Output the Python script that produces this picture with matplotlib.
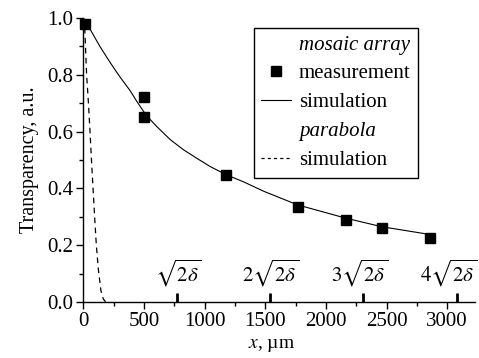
import numpy as np
import matplotlib
matplotlib.use('Agg')
import matplotlib.pyplot as plt
from matplotlib.lines import Line2D

plt.rcParams['font.family'] = ['Liberation Serif', 'DejaVu Serif']
plt.rcParams['mathtext.fontset'] = 'stix'

# measured points (x in um, transparency)
meas_x = [15, 500, 500, 1180, 1770, 2170, 2460, 2860]
meas_y = [0.98, 0.722, 0.652, 0.447, 0.333, 0.289, 0.262, 0.224]

# mosaic array simulation
sim_x = [0, 33, 83, 138, 193, 248, 303, 386, 440, 495, 550, 605, 716, 826, 936,
         1046, 1184, 1322, 1487, 1767, 2166, 2462, 2825]
sim_y = [1.0, 0.977, 0.940, 0.899, 0.862, 0.826, 0.792, 0.744, 0.707, 0.672, 0.643, 0.618, 0.572, 0.536, 0.506,
         0.477, 0.447, 0.423, 0.390, 0.342, 0.295, 0.265, 0.240]

# parabola simulation
par_x = [0, 10, 27, 42, 55, 67, 80, 93, 107, 125, 145, 165, 185]
par_y = [1.0, 0.98, 0.8, 0.7, 0.6, 0.5, 0.4, 0.3, 0.2, 0.11, 0.04, 0.01, 0.0]

# sqrt(2 delta) marks
root_x = [770, 1540, 2310, 3080]
root_label_x = [785, 1540, 2280, 3015]
root_labels = [r'$\sqrt{2\delta}$', r'$2\sqrt{2\delta}$', r'$3\sqrt{2\delta}$', r'$4\sqrt{2\delta}$']

fig = plt.figure(figsize=(4.79, 3.58), dpi=100)
ax = fig.add_axes([0.174, 0.1564, 0.8177, 0.7933])

ax.plot(sim_x, sim_y, color='black', linewidth=0.8)
ax.plot(par_x, par_y, color='black', linewidth=0.9, linestyle=(0, (4.5, 3.5)))
ax.plot(meas_x, meas_y, linestyle='none', marker='s', markersize=6.5,
        color='black', clip_on=False, zorder=5)

ax.vlines(root_x, 0, 0.032, color='black', linewidth=2)
for lx, lab in zip(root_label_x, root_labels):
    ax.text(lx, 0.072, lab, ha='center', va='baseline', fontsize=15)

ax.set_xlim(0, 3230)
ax.set_ylim(0, 1.0)
ax.set_xticks(np.arange(0, 3001, 500))
ax.set_xticks(np.arange(250, 3230, 500), minor=True)
ax.set_yticks(np.arange(0, 1.01, 0.2))
ax.set_yticks(np.arange(0.1, 1.0, 0.2), minor=True)
ax.yaxis.set_major_formatter(matplotlib.ticker.FormatStrFormatter('%.1f'))

for s in ['top', 'right']:
    ax.spines[s].set_visible(False)
ax.spines['left'].set_linewidth(1.0)
ax.spines['bottom'].set_linewidth(1.0)
ax.tick_params(which='major', direction='out', length=5, width=1, labelsize=15, pad=2)
ax.tick_params(which='minor', direction='out', length=3, width=1)

ax.set_xlabel(r'$x$, µm', fontsize=14)
ax.xaxis.set_label_coords(0.481, -0.122)
ax.set_ylabel('Transparency, a.u.', fontsize=14.5)
ax.yaxis.set_label_coords(-0.113, 0.5)

handles = [Line2D([], [], linestyle='none'),
           Line2D([], [], linestyle='none', marker='s', markersize=6.5, color='black'),
           Line2D([], [], color='black', linewidth=0.8),
           Line2D([], [], linestyle='none'),
           Line2D([], [], color='black', linewidth=0.9, linestyle=(0, (2.5, 2.5)))]
labels = ['mosaic array', 'measurement', 'simulation', 'parabola', 'simulation']
leg = ax.legend(handles, labels, loc='upper left', bbox_to_anchor=(0.436, 0.966),
                fontsize=15, frameon=True, fancybox=False, framealpha=1,
                edgecolor='black', handlelength=1.4, handletextpad=0.4,
                labelspacing=0.45, borderpad=0.35, borderaxespad=0)
leg.get_frame().set_linewidth(1.0)
leg.get_texts()[0].set_style('italic')
leg.get_texts()[3].set_style('italic')

fig.savefig('out.png', dpi=100)
